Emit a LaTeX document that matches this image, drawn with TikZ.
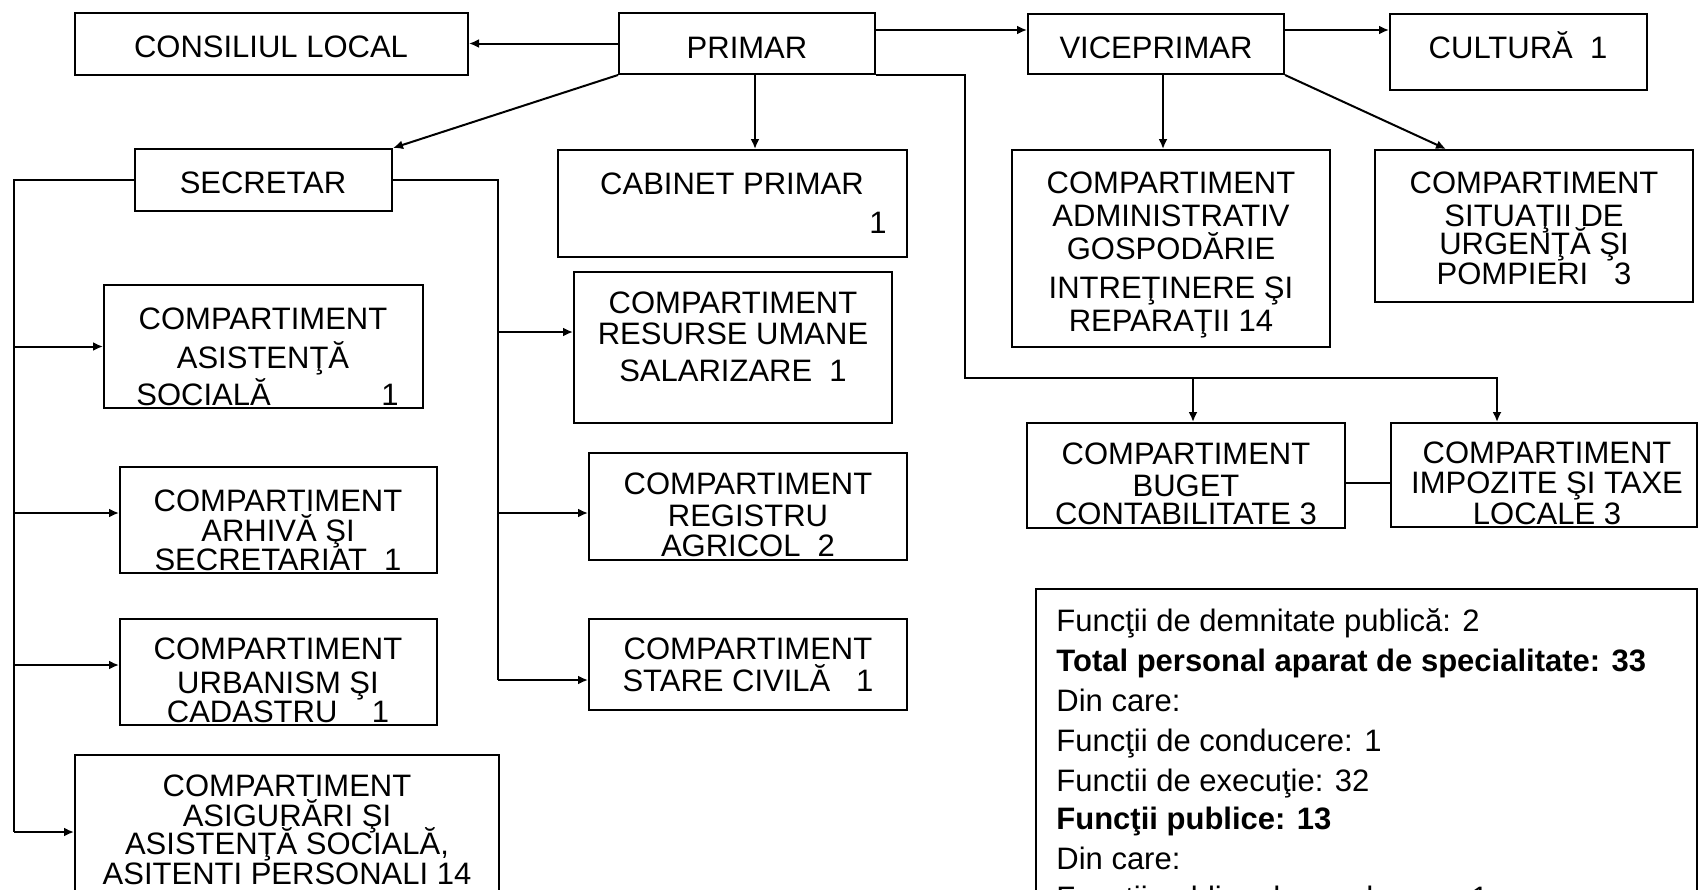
\documentclass[tikz,border=0pt]{standalone}
\usepackage{fontspec}
\setmainfont{Liberation Sans}
\usetikzlibrary{arrows.meta,fit}
\tikzset{
  box/.style={draw, line width=1pt, inner sep=0pt, rectangle},
  ln/.style={line width=1pt},
  arr/.style={line width=1pt, -{Latex[length=5pt,width=4.5pt]}},
  tx/.style={font=\fontsize{15.5}{18}\selectfont, inner sep=0pt, anchor=base},
  txl/.style={tx, anchor=base west},
  txb/.style={txl, font=\fontsize{15.5}{18}\selectfont\bfseries},
}
\begin{document}
\begin{tikzpicture}[x=0.5pt,y=-0.5pt]
\useasboundingbox (0,0) rectangle (1700,889);
\fill[white] (0,0) rectangle (1700,889);
\clip (0,0) rectangle (1700,889);

% ---------- boxes ----------
\node[box, fit={(75,13) (468,75)}] (consil) {};
\node[box, fit={(619,13) (875,74)}] (primar) {};
\node[box, fit={(1028,14) (1284,74)}] (vice) {};
\node[box, fit={(1390,14) (1647,90)}] (cult) {};
\node[box, fit={(135,149) (392,211)}] (secr) {};
\node[box, fit={(558,150) (907,257)}] (cab) {};
\node[box, fit={(1012,150) (1330,347)}] (admin) {};
\node[box, fit={(1375,150) (1693,302)}] (sit) {};
\node[box, fit={(104,285) (423,408)}] (asis) {};
\node[box, fit={(574,272) (892,423)}] (res) {};
\node[box, fit={(120,467) (437,573)}] (arh) {};
\node[box, fit={(589,453) (907,560)}] (reg) {};
\node[box, fit={(120,619) (437,725)}] (urb) {};
\node[box, fit={(589,619) (907,710)}] (stare) {};
\node[box, fit={(75,755) (499,905)}] (asig) {};
\node[box, fit={(1027,423) (1345,528)}] (buget) {};
\node[box, fit={(1391,423) (1697,527)}] (imp) {};
\node[box, fit={(1036,589) (1697,905)}] (sum) {};

% ---------- texts ----------
\node[tx] (t1) at (271,57) {CONSILIUL LOCAL};
\node[tx] (t2) at (747,58) {PRIMAR};
\node[tx] (t3) at (1156,58) {VICEPRIMAR};
\node[tx] (t4) at (1518,58) {CULTURĂ\ \ 1};
\node[tx] (t5) at (263,193) {SECRETAR};
\node[tx] (t6) at (732,194) {CABINET PRIMAR};
\node[tx] (t7) at (878,233) {1};

\node[tx] (a1) at (1171,193) {COMPARTIMENT};
\node[tx] (a2) at (1171,226) {ADMINISTRATIV};
\node[tx] (a3) at (1171,259) {GOSPODĂRIE};
\node[tx] (a4) at (1171,298) {INTREŢINERE ŞI};
\node[tx] (a5) at (1171,331) {REPARAŢII 14};

\node[tx] (s1) at (1534,193) {COMPARTIMENT};
\node[tx] (s2) at (1534,226) {SITUAŢII DE};
\node[tx] (s3) at (1534,254) {URGENŢĂ ŞI};
\node[tx] (s4) at (1534,284) {POMPIERI\ \ \ 3};

\node[tx] (as1) at (263,329) {COMPARTIMENT};
\node[tx] (as2) at (263,368) {ASISTENŢĂ};
\node[txl] (as3) at (136,405) {SOCIALĂ};
\node[tx] (as4) at (390,405) {1};

\node[tx] (r1) at (733,313) {COMPARTIMENT};
\node[tx] (r2) at (733,344) {RESURSE UMANE};
\node[tx] (r3) at (733,381) {SALARIZARE\ \ 1};

\node[tx] (h1) at (278,511) {COMPARTIMENT};
\node[tx] (h2) at (278,541) {ARHIVĂ ŞI};
\node[tx] (h3) at (278,570) {SECRETARIAT\ \ 1};

\node[tx] (g1) at (748,494) {COMPARTIMENT};
\node[tx] (g2) at (748,526) {REGISTRU};
\node[tx] (g3) at (748,556) {AGRICOL\ \ 2};

\node[tx] (u1) at (278,659) {COMPARTIMENT};
\node[tx] (u2) at (278,693) {URBANISM ŞI};
\node[tx] (u3) at (278,722) {CADASTRU\ \ \ \ 1};

\node[tx] (c1) at (748,659) {COMPARTIMENT};
\node[tx] (c2) at (748,691) {STARE CIVILĂ\ \ \ 1};

\node[tx] (q1) at (287,796) {COMPARTIMENT};
\node[tx] (q2) at (287,826) {ASIGURĂRI ŞI};
\node[tx] (q3) at (287,854) {ASISTENŢĂ SOCIALĂ,};
\node[tx] (q4) at (287,884) {ASITENTI PERSONALI 14};

\node[tx] (b1) at (1186,464) {COMPARTIMENT};
\node[tx] (b2) at (1186,496) {BUGET};
\node[tx] (b3) at (1186,524) {CONTABILITATE 3};

\node[tx] (i1) at (1547,463) {COMPARTIMENT};
\node[tx] (i2) at (1547,493) {IMPOZITE ŞI TAXE};
\node[tx] (i3) at (1547,524) {LOCALE 3};

\node[txl] (m1) at (1056,631) {Funcţii de demnitate publică: 2};
\node[txb] (m2) at (1056,671) {Total personal aparat de specialitate: 33};
\node[txl] (m3) at (1056,711) {Din care:};
\node[txl] (m4) at (1056,751) {Funcţii de conducere: 1};
\node[txl] (m5) at (1056,791) {Functii de execuţie: 32};
\node[txb] (m6) at (1056,829) {Funcţii publice: 13};
\node[txl] (m7) at (1056,869) {Din care:};
\node[txl] (m8) at (1056,908) {Funcţii publice de conducere: 1};

% ---------- helper coordinates ----------
\coordinate (y30) at (0,30);
\coordinate (x755) at (755,0);
\coordinate (x1163) at (1163,0);
\coordinate (x1193) at (1193,0);
\coordinate (x1446) at (1446,0);
\coordinate (x1497) at (1497,0);
\coordinate (y332) at (0,332);
\coordinate (y483) at (0,483);
\coordinate (y513) at (0,513);
\coordinate (y665) at (0,665);
\coordinate (bus) at (965,378);
\coordinate (L) at (14,832);
\coordinate (R) at (498,680);

% ---------- connectors ----------
\draw[arr] (primar.west) -- (primar.west -| consil.east);
\draw[arr] (primar.east |- y30) -- (vice.west |- y30);
\draw[arr] (vice.east |- y30) -- (cult.west |- y30);
\draw[arr] (primar.south west) -- (secr.north east);
\draw[arr] (primar.south -| x755) -- (cab.north -| x755);
\draw[arr] (primar.south east) -| (bus) -| (imp.north -| x1497);
\draw[arr] (bus -| x1193) -- (buget.north -| x1193);
\draw[arr] (vice.south -| x1163) -- (admin.north -| x1163);
\draw[arr] (vice.south east) -- (sit.north -| x1446);
\draw[ln] (buget.east |- y483) -- (imp.west |- y483);

\draw[ln] (secr.west) -| (L);
\draw[arr] (L) -- (asig.west |- L);
\draw[arr] (L |- asis.west) -- (asis.west);
\draw[arr] (L |- y513) -- (arh.west |- y513);
\draw[arr] (L |- y665) -- (urb.west |- y665);

\draw[ln] (secr.east) -| (R);
\draw[arr] (R |- y332) -- (res.west |- y332);
\draw[arr] (R |- y513) -- (reg.west |- y513);
\draw[arr] (R) -- (stare.west |- R);
\end{tikzpicture}
\end{document}
